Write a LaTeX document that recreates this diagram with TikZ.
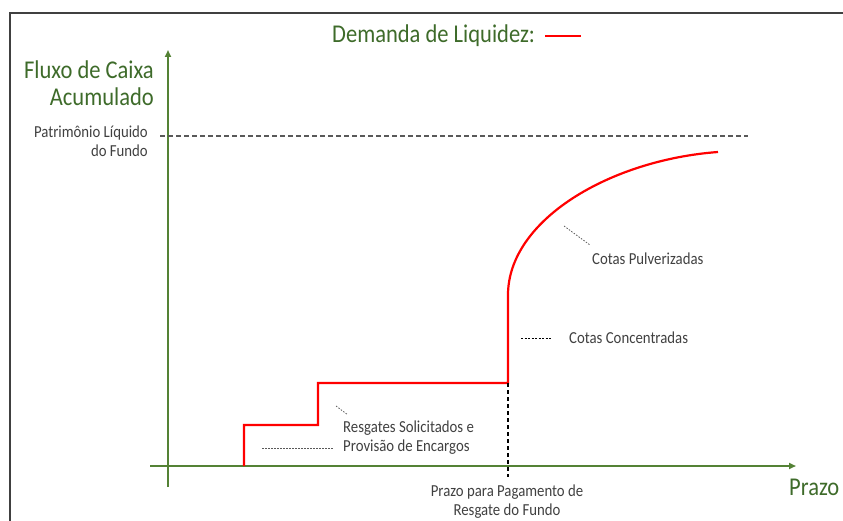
\documentclass[tikz,border=0pt]{standalone}
\usepackage{fontspec}
\usepackage{graphicx}
\setmainfont{Carlito}
\usetikzlibrary{arrows.meta}
\definecolor{axisgreen}{HTML}{548235}
\definecolor{txtgreen}{HTML}{3E6B2A}
\definecolor{txtgray}{HTML}{404040}
\definecolor{dashgray}{HTML}{595959}
\definecolor{curvered}{HTML}{FF0000}
\newcommand{\sqz}[1]{\scalebox{0.88}[1]{#1}}
\tikzset{
  bigtxt/.style={text=txtgreen, font=\fontsize{25.6}{27}\selectfont, inner sep=0pt},
  smalltxt/.style={text=txtgray, font=\fontsize{16.8}{19}\selectfont, inner sep=0pt},
  axisline/.style={draw=axisgreen, line width=2pt, -{Triangle[length=7pt,width=6pt]}},
  demand/.style={draw=curvered, line width=2.2pt},
  leader/.style={draw=dashgray, line width=0.8pt, dash pattern=on 1.5pt off 1.5pt},
  frameline/.style={draw=txtgray, line width=2pt},
}
\begin{document}
\begin{tikzpicture}[x=1pt,y=-1pt]
\useasboundingbox (0,0) rectangle (843,521);
% frame
\coordinate (fa) at (9,13);
\coordinate (fb) at (843,13);
\coordinate (fc) at (10,13);
\coordinate (fd) at (10,521);
\draw[frameline] (fa) -- (fb);
\draw[frameline] (fc) -- (fd);
% title
\node[bigtxt, anchor=west] (title) at (332,36) {\sqz{Demanda de Liquidez:}};
\coordinate (la) at (545,36);
\coordinate (lb) at (581,36);
\draw[demand] (la) -- (lb);
% axes
\coordinate (ybot) at (168,487);
\coordinate (ytop) at (168,50);
\coordinate (xleft) at (150,466);
\coordinate (xright) at (796,466);
\draw[axisline] (ybot) -- (ytop);
\draw[axisline] (xleft) -- (xright);
\node[bigtxt, anchor=east, align=right] (ylabel) at (154,83) {\sqz{Fluxo de Caixa}\\\sqz{Acumulado}};
\node[bigtxt, anchor=west] (xlabel) at (789,487) {\sqz{Prazo}};
% patrimonio
\coordinate (pla) at (160,136);
\coordinate (plb) at (748,136);
\draw[draw=dashgray, line width=1.5pt, dash pattern=on 5pt off 3pt] (pla) -- (plb);
\node[smalltxt, anchor=east, align=right] (pl) at (148,141) {\sqz{Patrimônio Líquido}\\\sqz{do Fundo}};
% demand curve
\coordinate (c0) at (244,466);
\coordinate (c1) at (244,425);
\coordinate (c2) at (318,425);
\coordinate (c3) at (318,383);
\coordinate (c4) at (508,383);
\coordinate (c5) at (508,295);
\coordinate (c6) at (718,152);
\draw[demand, line join=miter] (c0) -- (c1) -- (c2) -- (c3) -- (c4) -- (c5)
  .. controls (508,220) and (610,160) .. (c6);
% prazo vertical dashed
\coordinate (va) at (508,383);
\coordinate (vb) at (508,477);
\draw[black, line width=1.3pt, dash pattern=on 4pt off 3pt] (va) -- (vb);
\node[smalltxt, align=center] (prazo) at (507,502) {\sqz{Prazo para Pagamento de}\\\sqz{Resgate do Fundo}};
% annotations
\node[smalltxt, anchor=west] (pulv) at (592,259) {\sqz{Cotas Pulverizadas}};
\coordinate (pa) at (564,226);
\coordinate (pb) at (590,245);
\draw[leader] (pa) -- (pb);
\node[smalltxt, anchor=west] (conc) at (569,338) {\sqz{Cotas Concentradas}};
\coordinate (ca) at (521,338);
\coordinate (cb) at (552,338);
\draw[black, line width=0.8pt, dash pattern=on 2pt off 1.5pt] (ca) -- (cb);
\node[smalltxt, anchor=west, align=left] (resg) at (343,438) {\sqz{Resgates Solicitados e}\\\sqz{Provisão de Encargos}};
\coordinate (ra) at (336,406);
\coordinate (rb) at (348,415);
\draw[leader] (ra) -- (rb);
\coordinate (rc) at (262,448);
\coordinate (rd) at (334,448);
\draw[leader] (rc) -- (rd);
\end{tikzpicture}
\end{document}
